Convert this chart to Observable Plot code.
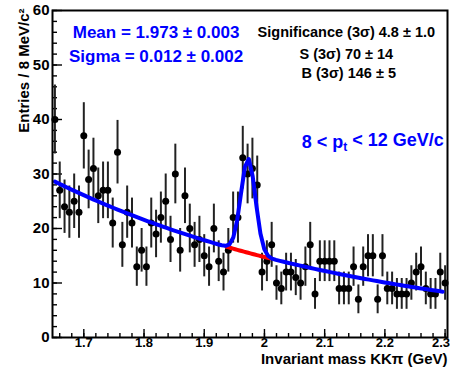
<!DOCTYPE html>
<html>
<head>
<meta charset="utf-8">
<script src="https://cdn.jsdelivr.net/npm/d3@7"></script>
<script src="https://cdn.jsdelivr.net/npm/@observablehq/plot@0.6"></script>
<style>
  html, body { margin: 0; padding: 0; background: #fff; }
  #chart svg { display: block; }
</style>
</head>
<body>
<div id="chart"></div>
<script>
// KKπ invariant-mass histogram, 8 MeV/c² bins, with a Gaussian + exponential fit.
const binLow = 1.648;          // lower edge of the first bin (GeV)
const binWidth = 0.008;        // GeV
const counts = [
  40, 27, 24, 23, 25, 23, 37, 29, 31, 26,
  27, 27, 21, 34, 17, 23, 21, 13, 16, 13,
  21, 19, 22, 25, 18, 30, 16, 26, 20, 17,
  18, 15, 13, 20, 14, 12, 16, 22, 22, 33,
  30, 31, 28, 12, 14, 17, 10, 9, 12, 12,
  11, 10, 13, 17, 8, 14, 14, 14, 14, 9,
  9, 9, 13, 7, 13, 15, 15, 7, 15, 9,
  9, 8, 8, 8, 10, 12, 13, 9, 8, 8,
  12, 10
];

// Axis ranges and tick labels
const xDomain = [1.648, 2.304];
const yDomain = [0, 60];
const xMajor = [1.7, 1.8, 1.9, 2.0, 2.1, 2.2, 2.3];
const xTickLabels = ["1.7", "1.8", "1.9", "2", "2.1", "2.2", "2.3"];
const yMajor = [0, 10, 20, 30, 40, 50, 60];
const yTickLabels = ["0", "10", "20", "30", "40", "50", "60"];

// Fit results
const mean = 1.973, meanErr = 0.003;
const sigma = 0.012, sigmaErr = 0.002;
const signif = 4.8, signifErr = 1.0;
const signal3s = 70, signal3sErr = 14;
const bkg3s = 146, bkg3sErr = 5;
const fitRange = [1.652, 2.296];
const bkgRef = 1.652, bkgNorm = 28.6, bkgSlope = 1.9;   // exponential background
const gaussAmp = 17.3;                                 // peak height above background (entries/bin)
const npx = 100;                                       // samples along the fit curve

const ptLabel = "8 < pt < 12 GeV/c";

// Histogram rows
const bins = counts.map((n, i) => {
  const lo = binLow + i * binWidth;
  return {lo, hi: lo + binWidth, m: lo + binWidth / 2, n, err: Math.sqrt(n)};
});

// Fit functions
const bkg = (m) => bkgNorm * Math.exp(-bkgSlope * (m - bkgRef));
const total = (m) => bkg(m) + gaussAmp * Math.exp(-0.5 * ((m - mean) / sigma) ** 2);

const fitCurve = d3.range(npx + 1).map(i => {
  const m = fitRange[0] + (fitRange[1] - fitRange[0]) * i / npx;
  return {m, v: total(m)};
});
const bkgCurve = d3.range(21).map(i => {
  const m = mean - 3 * sigma + 6 * sigma * i / 20;
  return {m, v: bkg(m)};
});

// Minor tick positions
const xMinor = d3.range(83, 116).map(i => i * 0.02);
const yMinor = d3.range(0, 61, 2);

const font = "'Liberation Sans', Arial, Helvetica, sans-serif";
const blue = "#0000ff";
const lastX = xMajor.length - 1;

const plot = Plot.plot({
  width: 450,
  height: 375,
  marginLeft: 52,
  marginRight: 3,
  marginTop: 10,
  marginBottom: 38,
  x: {domain: xDomain, axis: null},
  y: {domain: yDomain, axis: null},
  style: {background: "#fff", fontFamily: font, overflow: "visible"},
  marks: [
    // ticks inside the frame
    Plot.ruleX(xMinor, {x: d => d, y1: 0, y2: 0, insetTop: -4, stroke: "#000", strokeWidth: 1.4}),
    Plot.ruleX(xMajor, {x: d => d, y1: 0, y2: 0, insetTop: -8, stroke: "#000", strokeWidth: 1.4}),
    Plot.ruleY(yMinor, {y: d => d, x1: xDomain[0], x2: xDomain[0], insetRight: -5, stroke: "#000", strokeWidth: 1.4}),
    Plot.ruleY(yMajor, {y: d => d, x1: xDomain[0], x2: xDomain[0], insetRight: -10, stroke: "#000", strokeWidth: 1.4}),

    // data: error bars and markers
    Plot.ruleX(bins, {x: "m", y1: d => d.n - d.err, y2: d => d.n + d.err, stroke: "#222", strokeWidth: 2}),
    Plot.ruleY(bins, {y: "n", x1: "lo", x2: "hi", stroke: "#222", strokeWidth: 2}),
    Plot.dot(bins, {x: "m", y: "n", r: 3.5, fill: "#000", stroke: "none"}),

    // fit: background under the peak, then the full function
    Plot.line(bkgCurve, {x: "m", y: "v", stroke: "#ff0000", strokeWidth: 4}),
    Plot.line(fitCurve, {x: "m", y: "v", stroke: blue, strokeWidth: 4, strokeLinejoin: "round"}),

    Plot.frame({stroke: "#000", strokeWidth: 2}),

    // tick labels (the last one is kept inside the canvas)
    Plot.text(xMajor.slice(0, lastX), {x: d => d, text: (d, i) => xTickLabels[i], frameAnchor: "bottom", dy: 9.5,
      fontSize: 13, fontWeight: "bold", fill: "#000"}),
    Plot.text([xMajor[lastX]], {x: d => d, text: () => xTickLabels[lastX], frameAnchor: "bottom", dy: 9.5, dx: 5,
      textAnchor: "end", fontSize: 13, fontWeight: "bold", fill: "#000"}),
    Plot.text(yMajor, {y: d => d, text: (d, i) => yTickLabels[i], frameAnchor: "left", dx: -3,
      textAnchor: "end", fontSize: 15, fontWeight: "bold", fill: "#000"}),

    // axis titles
    Plot.text(["Invariant mass KKπ (GeV)"], {text: d => d, frameAnchor: "bottom-right", dy: 26,
      textAnchor: "end", fontSize: 15, fontWeight: "bold", fill: "#000"}),
    Plot.text(["Entries / 8 MeV/c²"], {text: d => d, frameAnchor: "top-left", dx: -34, dy: -2,
      rotate: -90, textAnchor: "end", fontSize: 15, fontWeight: "bold", fill: "#000"}),

    // fit results
    Plot.text([`Mean = ${mean.toFixed(3)} ± ${meanErr.toFixed(3)}`], {text: d => d, x: 1.82, y: 55.9,
      fontSize: 17, fontWeight: "bold", fill: blue}),
    Plot.text([`Sigma = ${sigma.toFixed(3)} ± ${sigmaErr.toFixed(3)}`], {text: d => d, x: 1.82, y: 51.5,
      fontSize: 17, fontWeight: "bold", fill: blue}),
    Plot.text([`Significance (3σ) ${signif.toFixed(1)} ± ${signifErr.toFixed(1)}`], {text: d => d, x: 2.136, y: 55.9,
      fontSize: 14.5, fontWeight: "bold", fill: "#000"}),
    Plot.text([`S (3σ) ${signal3s} ± ${signal3sErr}`], {text: d => d, x: 2.136, y: 51.9,
      fontSize: 14.5, fontWeight: "bold", fill: "#000"}),
    Plot.text([`B (3σ) ${bkg3s} ± ${bkg3sErr}`], {text: d => d, x: 2.140, y: 48.5,
      fontSize: 14.5, fontWeight: "bold", fill: "#000"}),
    Plot.text([ptLabel], {text: d => d, x: 2.298, y: 35.9, textAnchor: "end",
      fontSize: 18, fontWeight: "bold", fill: blue})
  ]
});

// Subscript "t" in the transverse-momentum label
d3.select(plot).selectAll("text")
  .filter(function () { return this.textContent === ptLabel; })
  .each(function () {
    const t = d3.select(this);
    t.text(null);
    t.append("tspan").text("8 < p");
    t.append("tspan").attr("dy", "0.3em").attr("font-size", "12").text("t");
    t.append("tspan").attr("dy", "-0.3em").text(" < 12 GeV/c");
  });

document.getElementById("chart").appendChild(plot);
</script>
</body>
</html>
